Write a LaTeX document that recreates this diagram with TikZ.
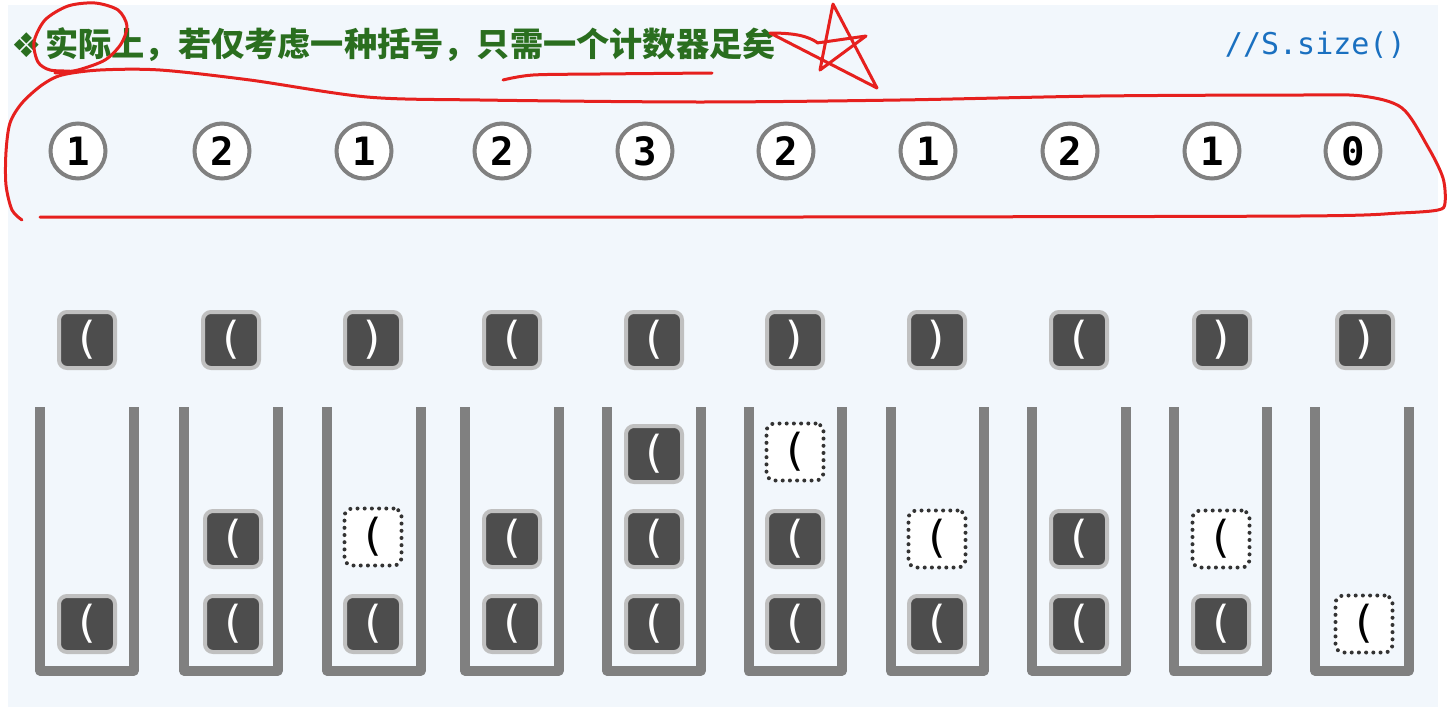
\documentclass[tikz,border=0pt]{standalone}
\usepackage{fontspec}
\usepackage{tikz}
\usetikzlibrary{positioning}
\newfontfamily\cjk{Noto Sans CJK SC}
\newfontfamily\symb{DejaVu Sans}
\newfontfamily\mono{DejaVu Sans Mono}
\definecolor{panel}{HTML}{F2F7FC}
\definecolor{boxdark}{HTML}{4D4D4D}
\definecolor{boxedge}{HTML}{C0C0C0}
\definecolor{stackgray}{HTML}{808080}
\definecolor{dotgray}{HTML}{333333}
\definecolor{titlegreen}{HTML}{2A6E1F}
\definecolor{codeblue}{HTML}{1A70C0}
\definecolor{inkred}{HTML}{E6201E}
\tikzset{
  cnt/.style={circle, draw=stackgray, line width=2pt, fill=white,
    minimum size=27.5pt, inner sep=0pt, font=\mono\bfseries\fontsize{19.5}{19.5}\selectfont},
  paren/.style={rounded corners=4pt, draw=boxedge, line width=2pt, fill=boxdark,
    text=white, minimum size=28pt, inner sep=0pt, font=\mono\fontsize{22}{22}\selectfont},
  ghost/.style={rounded corners=4pt, draw=dotgray, line width=2pt,
    dash pattern=on 0pt off 3.6pt, line cap=round, fill=white,
    minimum size=28.5pt, inner sep=0pt, font=\mono\fontsize{22}{22}\selectfont},
  wall/.style={draw=stackgray, line width=5pt, line join=round},
  pen/.style={draw=inkred, line width=1.5pt, line cap=round, line join=round}
}
\begin{document}
\begin{tikzpicture}[x=0.5pt,y=-0.5pt]
  \useasboundingbox (0,0) rectangle (1448,707);
  \fill[panel] (8,5) rectangle (1438,707);

  % heading
  \node[anchor=west, inner sep=0pt, text=titlegreen, font=\cjk\bfseries\fontsize{16.6}{20}\selectfont]
    (title) at (45,45) {实际上，若仅考虑一种括号，只需一个计数器足矣};
  \node[text=titlegreen, inner sep=0pt, font=\symb\fontsize{17}{17}\selectfont] (mark) at (27,45) {❖};
  \node[anchor=east, inner sep=0pt, text=codeblue, font=\mono\fontsize{15}{15}\selectfont]
    (size) at (1406,45) {//S.size()};

  % counter values
  \foreach \x/\v [count=\i] in {78/1,222/2,364/1,502/2,645/3,786/2,928/1,1070/2,1212/1,1353/0}
    \node[cnt] (c\i) at (\x,151) {\v};

  % input brackets
  \foreach \x/\p [count=\i] in {87/(,231/(,373/),512/(,654/(,795/),937/),1079/(,1222/),1365/)}
    \node[paren] (b\i) at (\x,340) {\p};

  % stacks
  \foreach \x in {87,231,374,512,654,795.5,937.5,1079,1220.5,1362}
    \draw[wall] (\x-47,407) -- (\x-47,670.5) -- (\x+46.5,670.5) -- (\x+46.5,407);

  \foreach \nm/\x/\y/\sty in {s1a/87/624/paren,
      s2a/233/624/paren, s2b/233/539/paren,
      s3a/373/624/paren, s3b/373/537/ghost,
      s4a/512/624/paren, s4b/512/539/paren,
      s5a/654/624/paren, s5b/654/539/paren, s5c/654/454/paren,
      s6a/795/624/paren, s6b/795/539/paren, s6c/795/452/ghost,
      s7a/937/624/paren, s7b/937/539/ghost,
      s8a/1079/624/paren, s8b/1079/539/paren,
      s9a/1221/624/paren, s9b/1221/539/ghost,
      s10a/1364/624/ghost}
    \node[\sty] (\nm) at (\x,\y) {(};

  % red ink
  \draw[pen] plot[smooth] coordinates {(55,73) (78,70) (105,60) (121,44) (127,26)
    (118,10) (95,3) (68,6) (45,20) (34,42) (38,62) (50,70) (70,71)};
  \draw[pen] plot[smooth] coordinates {(22,220) (12,210) (6,185) (6,152) (10,123) (22,103)
    (42,85) (62,75) (100,70) (160,70) (250,80) (367,97) (480,100) (700,102) (900,100)
    (1100,96) (1300,95) (1362,96) (1402,108) (1428,147) (1443,178) (1445,203) (1438,210)
    (1400,213) (1300,216) (800,217) (300,217) (40,217)};
  \draw[pen] plot[smooth] coordinates {(503,80) (533,75) (600,74) (712,73)};
  \draw[pen] (817,43) -- (866,36) -- (820,70) -- (833,4) -- (877,88) -- (770,33)
    .. controls (795,33) and (808,36) .. (818,43);
\end{tikzpicture}
\end{document}
